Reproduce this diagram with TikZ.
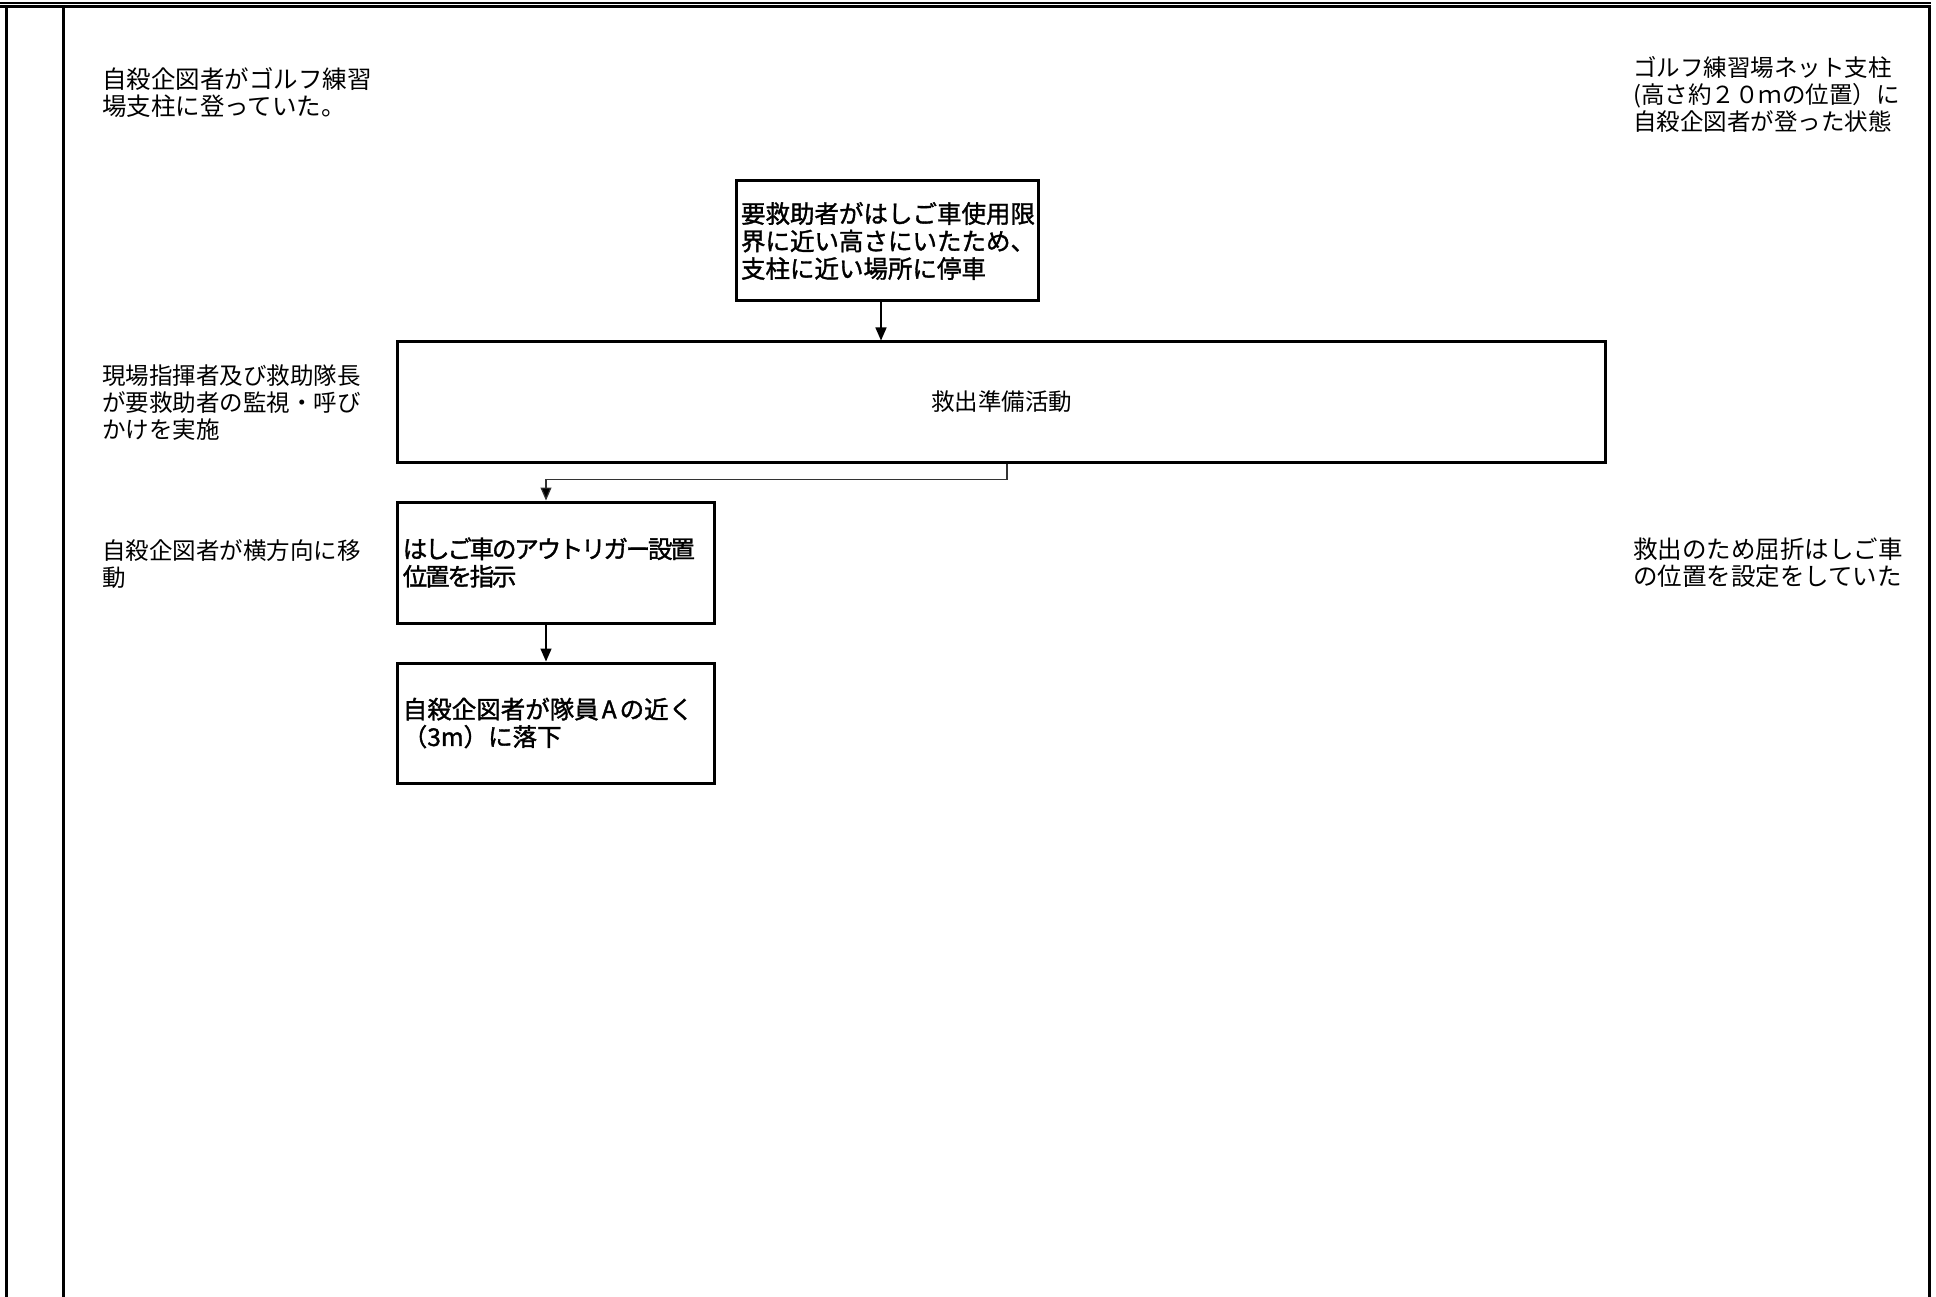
\documentclass[tikz,border=0pt]{standalone}
\usepackage{fontspec}
\usetikzlibrary{arrows.meta,calc}
\newfontfamily\jpgo{Noto Sans CJK JP}
\newfontfamily\jpgob[FakeBold=1.4]{Noto Sans CJK JP}
\newfontfamily\jpgobn[FakeBold=1.4,LetterSpace=-9]{Noto Sans CJK JP}
\newfontfamily\jpmin{Noto Sans CJK JP}
\tikzset{
  gotext/.style={anchor=west, inner sep=0pt, align=left, font=\jpgo\fontsize{24.5}{27}\selectfont},
  mintext/.style={anchor=west, inner sep=0pt, align=left, font=\jpmin\fontsize{23.5}{27}\selectfont},
  stepbox/.style={draw, line width=3pt, rectangle, inner xsep=5pt, inner ysep=0pt, align=left,
     font=\jpgob\fontsize{24.5}{27.5}\selectfont},
  arr/.style={line width=1.5pt, -{Triangle[length=13pt,width=11pt]}},
  thinarr/.style={line width=1.2pt, draw=black!80, -{Triangle[length=13pt,width=11pt,fill=black]}}
}
\begin{document}
\begin{tikzpicture}[x=1pt,y=-1pt]
\useasboundingbox (0,0) rectangle (1936,1297);
% frame
\draw[line width=2pt] (0,3.2) -- (1931,3.2);
\draw[line width=2.6pt] (0,6.6) -- (1931,6.6);
\draw[line width=3pt] (6.2,6) -- (6.2,1297);
\draw[line width=3pt] (63,6) -- (63,1297);
\draw[line width=3.2pt] (1929.4,6) -- (1929.4,1297);

% side texts
\node[gotext] (tl) at (102,92.5) {自殺企図者がゴルフ練習\\場支柱に登っていた。};
\node[mintext] (tr) at (1633,94.5) {ゴルフ練習場ネット支柱\\(高さ約２０ｍの位置）に\\自殺企図者が登った状態};
\node[mintext] (l2) at (102,402.5) {現場指揮者及び救助隊長\\が要救助者の監視・呼び\\かけを実施};
\node[mintext] (l3) at (102,564) {自殺企図者が横方向に移\\動};
\node[gotext] (r2) at (1633,562.5) {救出のため屈折はしご車\\の位置を設定をしていた};

% boxes
\node[stepbox, text width=292pt, minimum height=120pt] (b1) at (887,241)
  {要救助者がはしご車使用限\\界に近い高さにいたため、\\支柱に近い場所に停車};
\node[draw, line width=3pt, rectangle, minimum width=1208pt, minimum height=120pt,
  font=\jpmin\fontsize{23.5}{27}\selectfont] (big) at (1001.8,402) {救出準備活動};
\node[stepbox, text width=307pt, minimum height=121pt, font=\jpgobn\fontsize{24.5}{27.5}\selectfont] (b3) at (556.3,562.5)
  {はしご車のアウトリガー設置\\位置を指示};
\node[stepbox, text width=307pt, minimum height=120pt] (b4) at (556.3,723)
  {自殺企図者が隊員\kern3pt A\kern3pt の近く\\（3m）に落下};

% connectors
\draw[arr] ([xshift=-6pt]b1.south) -- ([xshift=-6pt]b1.south |- big.north);
\draw[thinarr] ([xshift=5.2pt]big.south) -- ++(0,16) -| ([xshift=-10.3pt]b3.north);
\draw[arr] ([xshift=-10.3pt]b3.south) -- ([xshift=-10.3pt]b4.north);
\end{tikzpicture}
\end{document}
